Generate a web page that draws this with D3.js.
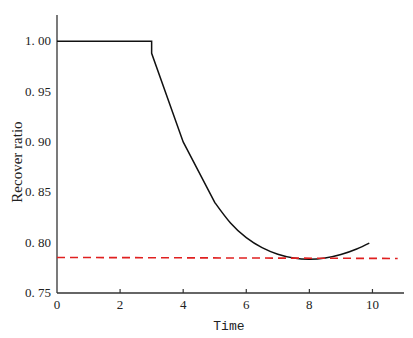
<!DOCTYPE html>
<html>
<head>
<meta charset="utf-8">
<script src="https://cdn.jsdelivr.net/npm/d3@7"></script>
<style>
  body { margin: 0; background: #fff; }
</style>
</head>
<body>
<div id="chart"></div>
<script>
const width = 413,
    height = 338;
const margin = { top: 15, right: 9, bottom: 45, left: 57 };

// recover ratio curve (time, ratio)
const curveTime = [0, 3, 3, 4, 5, 5.5, 6, 6.5, 7, 7.5, 8, 8.5, 9, 9.5, 9.9];
const curveRatio = [1.0, 1.0, 0.988, 0.900, 0.840, 0.8195, 0.805, 0.795, 0.7885, 0.7847, 0.7835, 0.7847, 0.7882, 0.7937, 0.7995];

// red dashed reference line
const refTime = [0, 10.8];
const refRatio = [0.7853, 0.7843];

const xTicks = [2, 4, 6, 8, 10];
const yTicks = [0.75, 0.80, 0.85, 0.90, 0.95, 1.00];

const svg = d3.select('#chart')
    .append('svg')
    .attr('width', width)
    .attr('height', height);

const x = d3.scaleLinear()
    .domain([0, 11])
    .range([margin.left, width - margin.right]);

const y = d3.scaleLinear()
    .domain([0.75, 1.026])
    .range([height - margin.bottom, margin.top]);

// axis lines
const axisColor = '#333';
svg.append('line')
    .attr('x1', x(0)).attr('x2', x(11))
    .attr('y1', y(0.75)).attr('y2', y(0.75))
    .attr('stroke', axisColor).attr('stroke-width', 1.3);
svg.append('line')
    .attr('x1', x(0)).attr('x2', x(0))
    .attr('y1', y(0.75)).attr('y2', y(1.026))
    .attr('stroke', axisColor).attr('stroke-width', 1.3);

// x ticks (inward)
svg.append('g').selectAll('line')
    .data(xTicks)
    .enter()
    .append('line')
    .attr('x1', d => x(d)).attr('x2', d => x(d))
    .attr('y1', y(0.75)).attr('y2', y(0.75) - 4)
    .attr('stroke', axisColor).attr('stroke-width', 1.2);

const tickFont = '"Liberation Serif", "DejaVu Serif", serif';

svg.append('g').selectAll('text')
    .data([0].concat(xTicks))
    .enter()
    .append('text')
    .attr('x', d => x(d))
    .attr('y', y(0.75) + 16)
    .attr('text-anchor', 'middle')
    .style('font-family', tickFont)
    .style('font-size', '13px')
    .attr('fill', '#222')
    .text(d => d);

svg.append('g').selectAll('text')
    .data(yTicks)
    .enter()
    .append('text')
    .attr('x', x(0) - 6)
    .attr('y', d => y(d) + 4)
    .attr('text-anchor', 'end')
    .style('font-family', tickFont)
    .style('font-size', '13px')
    .attr('fill', '#222')
    .text(d => d3.format('.2f')(d).replace('.', '. '));

// axis titles
svg.append('text')
    .attr('x', x(5.45))
    .attr('y', 330)
    .attr('text-anchor', 'middle')
    .style('font-family', '"Liberation Mono", "DejaVu Sans Mono", monospace')
    .style('font-size', '13px')
    .attr('fill', '#222')
    .text('Time');

svg.append('text')
    .attr('transform', 'translate(22,' + y(0.88) + ') rotate(-90)')
    .attr('text-anchor', 'middle')
    .style('font-family', tickFont)
    .style('font-size', '15px')
    .attr('fill', '#222')
    .text('Recover ratio');

// curve: straight segments up to t=5, smooth after
const pts = curveTime.map((t, i) => [t, curveRatio[i]]);
const splitAt = curveTime.indexOf(5);

const straight = d3.line()
    .x(d => x(d[0]))
    .y(d => y(d[1]));

const smooth = d3.line()
    .x(d => x(d[0]))
    .y(d => y(d[1]))
    .curve(d3.curveNatural);

svg.append('path')
    .attr('d', straight(pts.slice(0, splitAt + 1)) + smooth(pts.slice(splitAt)).replace(/^M[^A-Za-z]*/, 'L' + x(pts[splitAt][0]) + ',' + y(pts[splitAt][1])))
    .attr('fill', 'none')
    .attr('stroke', '#111')
    .attr('stroke-width', 1.5);

// red dashed line
svg.append('path')
    .attr('d', straight(refTime.map((t, i) => [t, refRatio[i]])))
    .attr('fill', 'none')
    .attr('stroke', '#e02020')
    .attr('stroke-width', 1.6)
    .attr('stroke-dasharray', '8,5');
</script>
</body>
</html>
